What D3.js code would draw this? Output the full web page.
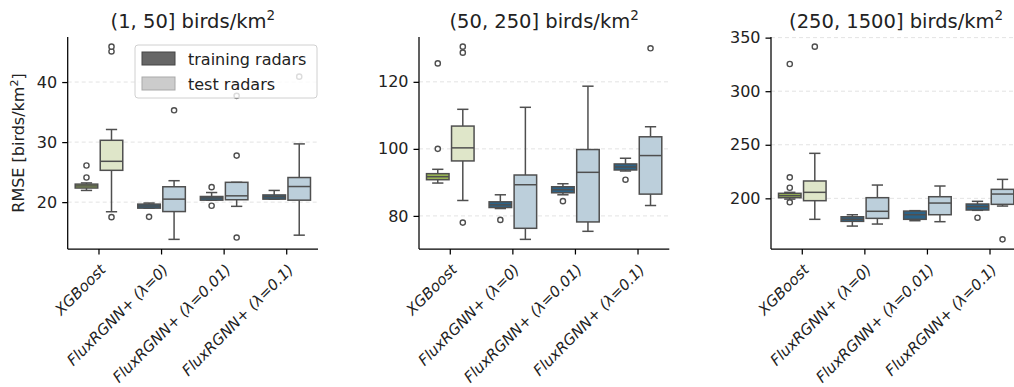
<!DOCTYPE html>
<html>
<head>
<meta charset="utf-8">
<script src="https://cdn.jsdelivr.net/npm/d3@7"></script>
<style>
  body { margin: 0; background: #fff; }
  svg { font-family: "DejaVu Sans", sans-serif; display: block; }
  .tick text { fill: #222; }
</style>
</head>
<body>
<svg id="chart"></svg>
<script>
// Chart data
var categories = ['XGBoost', 'FluxRGNN+ (λ=0)', 'FluxRGNN+ (λ=0.01)', 'FluxRGNN+ (λ=0.1)'];
var groups = ['training radars', 'test radars'];
var panelTitles = ['(1, 50] birds/km', '(50, 250] birds/km', '(250, 1500] birds/km'];
var yTicks = [[20, 30, 40], [80, 100, 120], [200, 250, 300, 350]];

// box stats: [lower whisker, q1, median, q3, upper whisker]
var lowTrain = [[21.95, 22.35, 22.7, 23.0, 23.2], [19.0, 19.0, 19.35, 19.67, 19.85], [20.33, 20.33, 20.7, 20.94, 21.6], [20.5, 20.5, 20.9, 21.2, 21.95]];
var lowTest = [[18.4, 25.3, 26.8, 30.3, 32.1], [13.8, 18.43, 20.5, 22.56, 23.57], [19.3, 20.4, 21.05, 23.3, 23.3], [14.5, 20.33, 22.6, 24.1, 29.7]];
var lowTrainOutliers = [[24.1, 26.1], [17.55], [22.5, 19.4], []];
var lowTestOutliers = [[17.5, 45.1, 45.9], [35.3], [27.75, 14.1, 37.7], [40.9]];

var midTrain = [[89.8, 90.8, 91.7, 92.6, 93.9], [82.2, 82.5, 83.3, 84.2, 86.3], [86.3, 86.9, 87.8, 88.7, 89.6], [93.4, 93.7, 94.6, 95.5, 97.2]];
var midTest = [[84.6, 96.4, 100.3, 106.8, 111.8], [73.0, 76.3, 89.3, 92.2, 112.4], [75.4, 78.2, 93.0, 99.8, 118.7], [83.1, 86.5, 98.0, 103.6, 106.6]];
var midTrainOutliers = [[100, 125.5], [78.8], [84.4], [90.8]];
var midTestOutliers = [[78.0, 128.7, 130.5], [], [], [130.0]];

var highTrain = [[199.3, 200.6, 202.5, 204.7, 205.6], [174.1, 178.5, 180.5, 182.8, 184.7], [179.1, 180.4, 184.7, 188.1, 188.5], [188.8, 189.1, 192.2, 194.7, 197.2]];
var highTest = [[180.4, 197.8, 205.6, 216.2, 242], [176, 181.3, 187.9, 200.6, 212.4], [178.2, 184.7, 195.6, 201.5, 211.5], [192.8, 194.4, 204, 208.4, 217.7]];
var highTrainOutliers = [[196.3, 209.9, 219.6, 325.4], [], [], [181.9]];
var highTestOutliers = [[341.6], [], [], [161.7]];

var panels = [
  { train: lowTrain, test: lowTest, trainOut: lowTrainOutliers, testOut: lowTestOutliers },
  { train: midTrain, test: midTest, trainOut: midTrainOutliers, testOut: midTestOutliers },
  { train: highTrain, test: highTest, trainOut: highTrainOutliers, testOut: highTestOutliers }
];

// Colors
var trainFill = ['#9cb955', '#2b6287', '#2b6287', '#2b6287'];
var testFill = ['#dfe6c9', '#bccfdb', '#bccfdb', '#bccfdb'];
var edgeColor = '#4f4f4f';

// Layout
var canvasWidth = 1014;
var canvasHeight = 387;
var panelLeft = [67.7, 419, 771];
var panelWidth = 250.3;
var plotTop = 37;
var plotBottom = 249;

var svg = d3.select('#chart')
  .attr('width', canvasWidth)
  .attr('height', canvasHeight);

panels.forEach(function(p, pi) {
  var all = [];
  p.train.concat(p.test).forEach(function(s) { all.push(s[0], s[4]); });
  p.trainOut.concat(p.testOut).forEach(function(o) { all = all.concat(o); });
  var lo = d3.min(all), hi = d3.max(all), pad = (hi - lo) * 0.05;

  var x = d3.scaleBand()
    .domain(categories)
    .range([panelLeft[pi], panelLeft[pi] + panelWidth])
    .padding(0);
  var y = d3.scaleLinear()
    .domain([lo - pad, hi + pad])
    .range([plotBottom, plotTop]);

  var bw = x.bandwidth();
  var hue = d3.scaleBand().domain(groups).range([0.1 * bw, 0.9 * bw]).padding(0);
  var boxW = hue.bandwidth() * 0.9;

  var g = svg.append('g').attr('class', 'panel');

  // grid
  g.append('g').selectAll('line')
    .data(yTicks[pi])
    .enter()
    .append('line')
    .attr('x1', panelLeft[pi])
    .attr('x2', panelLeft[pi] + panelWidth)
    .attr('y1', function(d) { return y(d); })
    .attr('y2', function(d) { return y(d); })
    .attr('stroke', '#e3e3e3')
    .attr('stroke-width', 1)
    .attr('stroke-dasharray', '4,3');

  // boxes
  categories.forEach(function(cat, ci) {
    [[p.train[ci], p.trainOut[ci], trainFill[ci], groups[0]],
     [p.test[ci], p.testOut[ci], testFill[ci], groups[1]]].forEach(function(b) {
      var s = b[0];
      var cx = x(cat) + hue(b[3]) + hue.bandwidth() / 2;
      var box = g.append('g');
      box.append('line')
        .attr('x1', cx).attr('x2', cx)
        .attr('y1', y(s[0])).attr('y2', y(s[1]))
        .attr('stroke', edgeColor).attr('stroke-width', 1.5);
      box.append('line')
        .attr('x1', cx).attr('x2', cx)
        .attr('y1', y(s[3])).attr('y2', y(s[4]))
        .attr('stroke', edgeColor).attr('stroke-width', 1.5);
      [s[0], s[4]].forEach(function(v) {
        box.append('line')
          .attr('x1', cx - boxW / 4).attr('x2', cx + boxW / 4)
          .attr('y1', y(v)).attr('y2', y(v))
          .attr('stroke', edgeColor).attr('stroke-width', 1.5);
      });
      box.append('rect')
        .attr('x', cx - boxW / 2)
        .attr('y', y(s[3]))
        .attr('width', boxW)
        .attr('height', Math.max(0.5, y(s[1]) - y(s[3])))
        .attr('fill', b[2])
        .attr('stroke', edgeColor)
        .attr('stroke-width', 1.5);
      box.append('line')
        .attr('x1', cx - boxW / 2).attr('x2', cx + boxW / 2)
        .attr('y1', y(s[2])).attr('y2', y(s[2]))
        .attr('stroke', edgeColor).attr('stroke-width', 1.5);
      box.selectAll('circle')
        .data(b[1])
        .enter()
        .append('circle')
        .attr('cx', cx)
        .attr('cy', function(d) { return y(d); })
        .attr('r', 2.6)
        .attr('fill', '#fff')
        .attr('stroke', edgeColor)
        .attr('stroke-width', 1.4);
    });
  });

  // axes
  var yAxis = d3.axisLeft(y).tickValues(yTicks[pi]).tickSize(5.5).tickPadding(5);
  var xAxis = d3.axisBottom(x).tickSize(5.5).tickFormat('');

  var ya = g.append('g')
    .attr('transform', 'translate(' + panelLeft[pi] + ',0)')
    .call(yAxis);
  ya.select('.domain').attr('d', 'M0,' + plotBottom + 'V' + plotTop).attr('stroke', '#000').attr('stroke-width', 1.25);
  ya.selectAll('.tick line').attr('stroke', '#000').attr('stroke-width', 1.25);
  ya.selectAll('.tick text').attr('font-size', '16px').attr('font-family', 'DejaVu Sans').attr('fill', '#222');

  var xa = g.append('g')
    .attr('transform', 'translate(0,' + plotBottom + ')')
    .call(xAxis);
  xa.select('.domain').attr('d', 'M' + panelLeft[pi] + ',0H' + (panelLeft[pi] + panelWidth)).attr('stroke', '#000').attr('stroke-width', 1.25);
  xa.selectAll('.tick line').attr('stroke', '#000').attr('stroke-width', 1.25);

  // rotated category labels
  categories.forEach(function(cat) {
    var tx = x(cat) + bw / 2;
    var ty = plotBottom + 14;
    g.append('text')
      .attr('transform', 'translate(' + tx + ',' + ty + ') rotate(-45)')
      .attr('text-anchor', 'end')
      .attr('dy', '0.72em')
      .attr('font-size', '15px')
      .attr('font-style', 'italic')
      .attr('fill', '#222')
      .text(cat);
  });

  // title
  var title = g.append('text')
    .attr('x', panelLeft[pi] + panelWidth / 2)
    .attr('y', 27.5)
    .attr('text-anchor', 'middle')
    .attr('font-size', '19.5px')
    .attr('fill', '#222');
  title.append('tspan').text(panelTitles[pi]);
  title.append('tspan').attr('font-size', '13.5px').attr('dy', '-8').text('2');
});

// y label
var ylab = svg.append('text')
  .attr('transform', 'translate(24,143) rotate(-90)')
  .attr('text-anchor', 'middle')
  .attr('font-size', '16px')
  .attr('fill', '#222');
ylab.append('tspan').text('RMSE [birds/km');
ylab.append('tspan').attr('font-size', '11px').attr('dy', '-6').text('2');
ylab.append('tspan').attr('dy', '6').text(']');

// legend
var legend = svg.append('g').attr('class', 'legend');
legend.append('rect')
  .attr('x', 135).attr('y', 45)
  .attr('width', 182).attr('height', 53)
  .attr('rx', 3)
  .attr('fill', '#fff').attr('fill-opacity', 0.8)
  .attr('stroke', '#d0d0d0').attr('stroke-width', 1);
var legendFill = ['#666666', '#cccccc'];
var legendEdge = ['#444444', '#a9a9a9'];
groups.forEach(function(gname, i) {
  var ly = 52 + i * 25;
  legend.append('rect')
    .attr('x', 142).attr('y', ly)
    .attr('width', 33).attr('height', 13)
    .attr('fill', legendFill[i])
    .attr('stroke', legendEdge[i]).attr('stroke-width', 1);
  legend.append('text')
    .attr('x', 188).attr('y', ly + 12.5)
    .attr('font-size', '16px')
    .attr('fill', '#222')
    .text(gname);
});
</script>
</body>
</html>
